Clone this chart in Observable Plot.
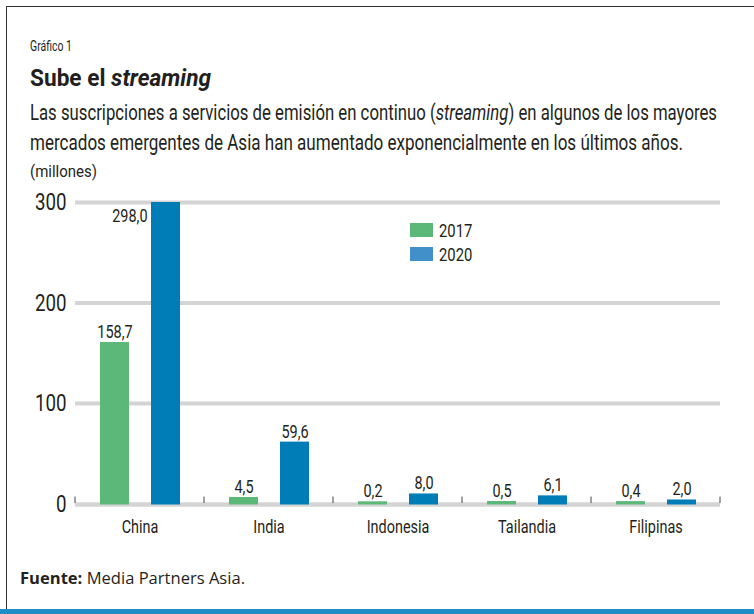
<!DOCTYPE html>
<html>
<head>
<meta charset="utf-8">
<script src="https://cdn.jsdelivr.net/npm/d3@7"></script>
<script src="https://cdn.jsdelivr.net/npm/@observablehq/plot@0.6"></script>
<style>
  html, body { margin: 0; padding: 0; background: #fff; }
  #wrap { position: relative; width: 754px; height: 614px; overflow: hidden; background: #fff; }
  .cond { font-family: Roboto, "Noto Sans", sans-serif; color: #231f20; }
  #box { position: absolute; left: 6px; top: 6px; width: 800px; height: 610px; border-left: 1.5px solid #333; border-top: 1.5px solid #333; }
  #bottombar { position: absolute; left: 0; top: 609px; width: 754px; height: 5px; background: #1d8ec6; }
  .t { position: absolute; white-space: nowrap; line-height: 1; transform-origin: 0 0; }
  #chart { position: absolute; left: 0; top: 185px; }
  .sw { position: absolute; width: 23px; height: 14px; }
</style>
</head>
<body>
<div id="wrap">
  <div id="box"></div>
  <div id="bottombar"></div>
  <div class="t cond fit" data-w="42" style="left:30px; top:38.5px; font-size:14px;">Gráfico 1</div>
  <div class="t cond fit" data-w="181" style="left:30px; top:67px; font-size:23.5px; font-weight:bold;">Sube el <i>streaming</i></div>
  <div class="t cond fit" data-w="687" style="left:30px; top:101.5px; font-size:22px;">Las suscripciones a servicios de emisión en continuo (<i>streaming</i>) en algunos de los mayores</div>
  <div class="t cond fit" data-w="653" style="left:30px; top:131.5px; font-size:22px;">mercados emergentes de Asia han aumentado exponencialmente en los últimos años.</div>
  <div class="t cond fit" data-w="67" style="left:30px; top:162.5px; font-size:17px;">(millones)</div>
  <div id="chart"></div>
  <div id="legend"></div>
  <div class="t fit" data-w="225" style="left:20px; top:571px; font-size:15.5px; font-family:'Open Sans', sans-serif; color:#231f20;"><b>Fuente:</b> Media Partners Asia.</div>
</div>
<script>
const countries = ["China", "India", "Indonesia", "Tailandia", "Filipinas"];
const years = ["2017", "2020"];
const values2017 = [158.7, 4.5, 0.2, 0.5, 0.4];
const values2020 = [298.0, 59.6, 8.0, 6.1, 2.0];
const yTicks = [0, 100, 200, 300];
const barColors = ["#5cb879", "#007db7"];
const legendColors = ["#5cb879", "#4290ca"];

const data = [];
countries.forEach((c, i) => {
  data.push({country: c, year: years[0], value: values2017[i]});
  data.push({country: c, year: years[1], value: values2020[i]});
});
const fmt = d => d3.format(".1f")(d.value).replace(".", ",");
const font = 'Roboto, "Noto Sans", sans-serif';
const maxVal = d3.max(data, d => d.value);
const isTop = d => d.value === maxVal;
const ink = "#231f20";

const chart = Plot.plot({
  width: 754,
  height: 365,
  marginTop: 17,
  marginBottom: 46.5,
  marginLeft: 74,
  marginRight: 33,
  style: {fontFamily: font, color: ink, background: "transparent", overflow: "visible"},
  fx: {domain: countries, padding: 0, label: null},
  x: {domain: years, paddingInner: 0.44, paddingOuter: 0.465, axis: null},
  y: {domain: [0, 300], label: null},
  color: {domain: years, range: barColors},
  marks: [
    Plot.gridY(yTicks.filter(t => t > 0), {stroke: "#d4d4d4", strokeOpacity: 1, strokeWidth: 4}),
    Plot.ruleY([0], {stroke: "#d4d4d4", strokeWidth: 4.5, dy: 0.5}),
    Plot.axisY(yTicks, {tickSize: 0, tickPadding: 9, fontSize: 24, label: null, tickFormat: d => String(d), fill: ink}),
    Plot.axisFx({anchor: "bottom", tickSize: 0, tickPadding: 15.5, fontSize: 18.5, label: null, fill: ink}),
    Plot.barY(data, {fx: "country", x: "year", y: "value", fill: "year", insetTop: -2, insetBottom: -1}),
    Plot.text(data.filter(d => !isTop(d)), {fx: "country", x: "year", y: "value", text: fmt, dy: -6.5, lineAnchor: "bottom", fontSize: 18.5, fill: ink}),
    Plot.text(data.filter(isTop), {fx: "country", x: "year", y: "value", text: fmt, textAnchor: "end", dx: -18.5, dy: 4, lineAnchor: "top", fontSize: 18.5, fill: ink})
  ]
});
document.getElementById("chart").appendChild(chart);

// boundary ticks between country groups, derived from the fx scale
const fx = chart.scale("fx");
const y = chart.scale("y");
const bounds = countries.map(c => fx.apply(c));
bounds.push(fx.apply(countries[countries.length - 1]) + fx.bandwidth);
const y0 = y.apply(0);
d3.select(chart).append("g")
  .selectAll("line").data(bounds).join("line")
  .attr("x1", d => d).attr("x2", d => d)
  .attr("y1", y0 - 7).attr("y2", y0 - 0.5)
  .attr("stroke", "#444").attr("stroke-width", 1);

// condensed look for the chart texts
const k = 0.78;
chart.querySelectorAll("text").forEach(t => {
  const L = t.getComputedTextLength();
  if (L > 0) {
    t.setAttribute("textLength", L * k);
    t.setAttribute("lengthAdjust", "spacingAndGlyphs");
  }
});

// legend
const legend = d3.select("#legend");
years.forEach((yr, i) => {
  legend.append("div").attr("class", "sw")
    .style("left", "410px").style("top", (223 + i * 24) + "px")
    .style("background", legendColors[i]);
  legend.append("div").attr("class", "t cond")
    .style("left", "439px").style("top", (220.8 + i * 24) + "px")
    .style("font-size", "19px").style("transform", `scaleX(${k})`).text(yr);
});

// fit header / footer lines to their widths
document.querySelectorAll(".fit").forEach(el => {
  const w = el.getBoundingClientRect().width;
  const target = +el.dataset.w;
  el.style.transform = `scaleX(${target / w})`;
});
</script>
</body>
</html>
